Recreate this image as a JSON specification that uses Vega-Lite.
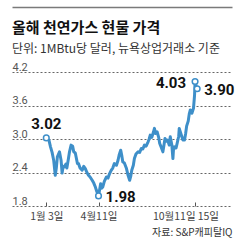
{
  "$schema": "https://vega.github.io/schema/vega-lite/v6.json",
  "width": 220,
  "height": 201,
  "autosize": "none",
  "padding": {"left": 12, "top": 5, "right": 8, "bottom": 43},
  "background": "white",
  "config": {"view": {"stroke": null}, "font": "Noto Sans CJK KR"},
  "title": {
    "text": "올해 천연가스 현물 가격",
    "subtitle": "단위: 1MBtu당 달러, 뉴욕상업거래소 기준",
    "anchor": "start",
    "frame": "group",
    "offset": -50,
    "font": "Noto Sans CJK KR",
    "fontSize": 15,
    "fontWeight": "bold",
    "color": "#111111",
    "subtitleFont": "Noto Sans CJK KR",
    "subtitleFontSize": 12,
    "subtitleColor": "#333333",
    "subtitlePadding": 8
  },
  "data": {
    "format": {"parse": {"date": "date:'%Y-%m-%d'"}},
    "values": [
      {"date": "2012-01-03", "v": 3.02},
      {"date": "2012-01-08", "v": 2.98},
      {"date": "2012-01-11", "v": 2.86},
      {"date": "2012-01-14", "v": 2.76},
      {"date": "2012-01-17", "v": 2.62},
      {"date": "2012-01-20", "v": 2.35},
      {"date": "2012-01-22", "v": 2.48},
      {"date": "2012-01-24", "v": 2.68},
      {"date": "2012-01-28", "v": 2.77},
      {"date": "2012-01-31", "v": 2.62},
      {"date": "2012-02-02", "v": 2.39},
      {"date": "2012-02-04", "v": 2.51},
      {"date": "2012-02-06", "v": 2.50},
      {"date": "2012-02-09", "v": 2.55},
      {"date": "2012-02-11", "v": 2.48},
      {"date": "2012-02-14", "v": 2.65},
      {"date": "2012-02-16", "v": 2.77},
      {"date": "2012-02-19", "v": 2.89},
      {"date": "2012-02-22", "v": 2.87},
      {"date": "2012-02-24", "v": 2.77},
      {"date": "2012-02-27", "v": 2.75},
      {"date": "2012-03-02", "v": 2.56},
      {"date": "2012-03-04", "v": 2.56},
      {"date": "2012-03-07", "v": 2.48},
      {"date": "2012-03-11", "v": 2.44},
      {"date": "2012-03-14", "v": 2.51},
      {"date": "2012-03-17", "v": 2.47},
      {"date": "2012-03-20", "v": 2.40},
      {"date": "2012-03-23", "v": 2.35},
      {"date": "2012-03-26", "v": 2.32},
      {"date": "2012-03-30", "v": 2.26},
      {"date": "2012-04-02", "v": 2.21},
      {"date": "2012-04-05", "v": 2.14},
      {"date": "2012-04-07", "v": 2.08},
      {"date": "2012-04-11", "v": 1.98},
      {"date": "2012-04-15", "v": 2.20},
      {"date": "2012-04-17", "v": 2.12},
      {"date": "2012-04-19", "v": 2.14},
      {"date": "2012-04-22", "v": 2.24},
      {"date": "2012-04-26", "v": 2.32},
      {"date": "2012-04-29", "v": 2.30},
      {"date": "2012-05-02", "v": 2.38},
      {"date": "2012-05-05", "v": 2.44},
      {"date": "2012-05-08", "v": 2.48},
      {"date": "2012-05-11", "v": 2.56},
      {"date": "2012-05-15", "v": 2.53},
      {"date": "2012-05-18", "v": 2.62},
      {"date": "2012-05-20", "v": 2.71},
      {"date": "2012-05-23", "v": 2.80},
      {"date": "2012-05-25", "v": 2.71},
      {"date": "2012-05-27", "v": 2.59},
      {"date": "2012-05-30", "v": 2.57},
      {"date": "2012-06-03", "v": 2.47},
      {"date": "2012-06-06", "v": 2.35},
      {"date": "2012-06-09", "v": 2.26},
      {"date": "2012-06-11", "v": 2.33},
      {"date": "2012-06-13", "v": 2.44},
      {"date": "2012-06-16", "v": 2.53},
      {"date": "2012-06-18", "v": 2.65},
      {"date": "2012-06-21", "v": 2.73},
      {"date": "2012-06-25", "v": 2.77},
      {"date": "2012-06-28", "v": 2.76},
      {"date": "2012-07-01", "v": 2.83},
      {"date": "2012-07-04", "v": 2.82},
      {"date": "2012-07-07", "v": 2.89},
      {"date": "2012-07-10", "v": 2.87},
      {"date": "2012-07-14", "v": 2.95},
      {"date": "2012-07-16", "v": 3.00},
      {"date": "2012-07-18", "v": 3.07},
      {"date": "2012-07-21", "v": 3.03},
      {"date": "2012-07-24", "v": 3.12},
      {"date": "2012-07-26", "v": 3.19},
      {"date": "2012-07-28", "v": 3.10},
      {"date": "2012-07-31", "v": 3.13},
      {"date": "2012-08-03", "v": 3.03},
      {"date": "2012-08-05", "v": 2.92},
      {"date": "2012-08-08", "v": 2.85},
      {"date": "2012-08-11", "v": 2.77},
      {"date": "2012-08-13", "v": 2.89},
      {"date": "2012-08-15", "v": 3.01},
      {"date": "2012-08-18", "v": 2.96},
      {"date": "2012-08-20", "v": 2.98},
      {"date": "2012-08-23", "v": 2.89},
      {"date": "2012-08-25", "v": 3.04},
      {"date": "2012-08-28", "v": 2.89},
      {"date": "2012-08-30", "v": 2.65},
      {"date": "2012-08-31", "v": 2.80},
      {"date": "2012-09-02", "v": 2.86},
      {"date": "2012-09-05", "v": 2.84},
      {"date": "2012-09-07", "v": 2.92},
      {"date": "2012-09-10", "v": 3.05},
      {"date": "2012-09-11", "v": 3.19},
      {"date": "2012-09-14", "v": 3.10},
      {"date": "2012-09-16", "v": 3.04},
      {"date": "2012-09-18", "v": 2.98},
      {"date": "2012-09-21", "v": 2.98},
      {"date": "2012-09-23", "v": 3.09},
      {"date": "2012-09-25", "v": 3.23},
      {"date": "2012-09-28", "v": 3.32},
      {"date": "2012-09-30", "v": 3.45},
      {"date": "2012-10-02", "v": 3.52},
      {"date": "2012-10-04", "v": 3.49},
      {"date": "2012-10-05", "v": 3.46},
      {"date": "2012-10-06", "v": 3.49},
      {"date": "2012-10-08", "v": 3.55},
      {"date": "2012-10-10", "v": 3.78},
      {"date": "2012-10-11", "v": 4.03},
      {"date": "2012-10-13", "v": 3.95},
      {"date": "2012-10-15", "v": 3.90}
    ]
  },
  "layer": [
    {
      "mark": {"type": "line", "color": "#3e8fc9", "strokeWidth": 3, "strokeJoin": "round", "strokeCap": "round"},
      "encoding": {
        "x": {
          "field": "date",
          "type": "temporal",
          "scale": {"domain": [{"year": 2011, "month": 10, "date": 30}, {"year": 2012, "month": 12, "date": 20}]},
          "axis": {
            "values": [{"year": 2012, "month": 1, "date": 3}, {"year": 2012, "month": 4, "date": 11}, {"year": 2012, "month": 10, "date": 11}, {"year": 2012, "month": 10, "date": 15}],
            "tickCount": 10,
            "format": "%-m월%e일",
            "labelExpr": "date(datum.value) == 15 ? '15일' : datum.label",
            "grid": false,
            "domain": false,
            "tickSize": -4,
            "tickColor": "#555555",
            "tickOpacity": {"condition": {"test": "date(datum.value) == 15", "value": 0}, "value": 1},
            "labelAlign": {"condition": [{"test": "month(datum.value) == 9 && date(datum.value) == 11", "value": "right"}, {"test": "date(datum.value) == 15", "value": "left"}], "value": "center"},
            "labelFlush": false,
            "labelOverlap": false,
            "labelFont": "Noto Sans CJK KR",
            "labelFontSize": 10.5,
            "labelColor": "#444444",
            "labelPadding": 9,
            "title": "자료: S&P캐피탈IQ",
            "titleAnchor": "end",
            "titleFont": "Noto Sans CJK KR",
            "titleFontSize": 10,
            "titleFontWeight": "normal",
            "titleColor": "#333333",
            "titlePadding": 6
          }
        },
        "y": {
          "field": "v",
          "type": "quantitative",
          "scale": {"domain": [1.8, 5.4], "nice": false, "zero": false},
          "axis": {
            "values": [1.8, 2.4, 3.0, 3.6, 4.2, 5.36],
            "tickCount": 20,
            "format": ".1f",
            "labelExpr": "datum.value > 5 ? '' : datum.label",
            "grid": true,
            "gridDash": {"condition": {"test": "datum.value > 5", "value": [300, 0]}, "value": [2, 2]},
            "gridColor": {"condition": {"test": "datum.value > 5", "value": "#7a7a7a"}, "value": "#666666"},
            "gridWidth": {"condition": {"test": "datum.value > 5", "value": 1.5}, "value": 1},
            "domain": false,
            "ticks": false,
            "labelAlign": "left",
            "labelBaseline": "alphabetic",
            "labelPadding": 0,
            "labelOffset": -2,
            "labelOverlap": false,
            "labelBound": false,
            "labelFont": "Liberation Sans Narrow, Roboto, sans-serif",
            "labelFontSize": {"condition": {"test": "datum.value > 5", "value": 0}, "value": 11},
            "labelColor": "#555555",
            "title": null
          }
        }
      }
    },
    {
      "transform": [{"filter": "datum.v == 3.02 || datum.v == 1.98 || datum.v == 4.03 || datum.v == 3.9"}],
      "mark": {"type": "point", "filled": true, "fill": "white", "stroke": "#3e8fc9", "strokeWidth": 1.5, "size": 32, "opacity": 1},
      "encoding": {
        "x": {"field": "date", "type": "temporal"},
        "y": {"field": "v", "type": "quantitative"}
      }
    },
    {
      "transform": [{"filter": "datum.v == 3.02"}],
      "mark": {"type": "text", "align": "center", "baseline": "alphabetic", "dy": -9, "font": "Liberation Sans Narrow, Roboto, sans-serif", "fontSize": 15, "fontWeight": "bold", "color": "#111111"},
      "encoding": {
        "x": {"field": "date", "type": "temporal"},
        "y": {"field": "v", "type": "quantitative"},
        "text": {"field": "v", "type": "quantitative", "format": ".2f"}
      }
    },
    {
      "transform": [{"filter": "datum.v == 1.98 || datum.v == 3.9"}],
      "mark": {"type": "text", "align": "left", "baseline": "middle", "dx": 7, "dy": 1.5, "font": "Liberation Sans Narrow, Roboto, sans-serif", "fontSize": 15, "fontWeight": "bold", "color": "#111111"},
      "encoding": {
        "x": {"field": "date", "type": "temporal"},
        "y": {"field": "v", "type": "quantitative"},
        "text": {"field": "v", "type": "quantitative", "format": ".2f"}
      }
    },
    {
      "transform": [{"filter": "datum.v == 4.03"}],
      "mark": {"type": "text", "align": "right", "baseline": "middle", "dx": -9, "dy": 1.5, "font": "Liberation Sans Narrow, Roboto, sans-serif", "fontSize": 15, "fontWeight": "bold", "color": "#111111"},
      "encoding": {
        "x": {"field": "date", "type": "temporal"},
        "y": {"field": "v", "type": "quantitative"},
        "text": {"field": "v", "type": "quantitative", "format": ".2f"}
      }
    }
  ]
}
